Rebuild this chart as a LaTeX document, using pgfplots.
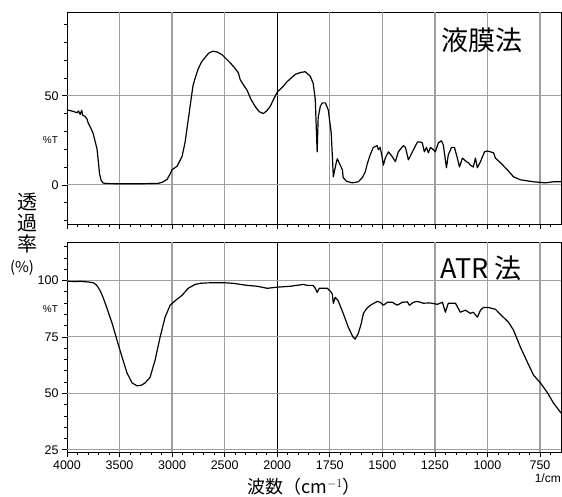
\documentclass[border=0pt]{standalone}
\usepackage{pgfplots}
\pgfplotsset{compat=1.18}
\usepackage{fontspec}
\setmainfont{Liberation Sans}
\newfontfamily\jp{Noto Sans CJK JP}

% IR spectra: wavenumber axis is compressed 2x above 2000 cm^-1
\pgfplotsset{
  irstyle/.style={
    scale only axis,
    width=494pt,
    xmin=4000, xmax=650,
    x coord trafo/.code={\pgfmathparse{ifthenelse(##1>=2000,(4000-##1)/500,4+(2000-##1)/250)}},
    axis line style={black, line width=0.8pt},
    tick align=outside,
    xtick pos=bottom, ytick pos=left,
    major tick length=5pt, minor tick length=3pt,
    tick style={black, line width=0.6pt},
    xtick={4000,3500,3000,2500,1750,1500,1250,1000,750},
    extra x ticks={2000},
    extra x tick style={xmajorgrids=true, major grid style={draw=black, line width=1pt}},
    minor xtick={3900,3800,3700,3600,3400,3300,3200,3100,2900,2800,2700,2600,2400,2300,2200,2100,
      1950,1900,1850,1800,1700,1650,1600,1550,1450,1400,1350,1300,1200,1150,1100,1050,950,900,850,800,700},
    tick label style={font=\fontsize{12.5}{13}\selectfont},
    clip mode=individual,
  },
  % vertical grid at 3500 ... 750 (rel. positions on the split scale)
  vgrid/.code={%
    \pgfplotsinvokeforeach{0.1064,0.2128,0.3191,0.5319,0.6383,0.7447,0.8511,0.9574}{%
      \draw[draw=black!38, line width=1.3pt] (rel axis cs:##1,0) -- (rel axis cs:##1,1);}},
}

\pgfplotstableread{
wn T
4000 42.1
3960 41.5
3930 41
3905 40.4
3890 41.5
3875 39.5
3860 41.8
3850 39
3830 38.5
3810 37
3800 35
3775 32
3752 29
3735 25
3714 20
3700 12
3690 6
3675 2.5
3657 1
3620 0.7
3500 0.6
3300 0.6
3133 0.8
3090 1.5
3048 3
3020 6
3000 8.5
2975 9.5
2952 10.5
2930 13
2905 16
2876 24
2855 33
2838 40
2820 48
2800 56
2775 61
2752 65
2720 69
2686 71.5
2650 74
2610 75
2570 74.5
2524 73
2490 71
2448 68.5
2410 66
2371 63
2352 59
2320 56
2286 53
2250 48
2210 44
2170 41
2133 40
2100 41.5
2067 44
2030 48.5
2000 52
1970 55.5
1952 58
1914 62
1890 63
1867 63.5
1843 61
1829 57
1819 48
1810 18.5
1805 38
1795 44
1786 46
1771 46
1757 42
1743 29
1733 4.5
1720 12
1714 14.6
1700 11
1690 8.4
1686 4
1670 2
1643 1.1
1614 1.7
1595 4
1581 7.3
1571 12
1557 17
1543 21
1524 22
1519 19.7
1510 21
1500 15
1495 11
1486 15
1471 18.5
1452 15.7
1438 13
1424 18.5
1400 22
1390 21
1376 14
1357 18.5
1333 24
1319 24
1310 23.6
1300 18.5
1290 21
1281 18
1271 21
1257 19.7
1248 18.5
1233 23.6
1219 24.7
1210 22.5
1195 9.6
1186 16.9
1171 21
1157 21
1143 15
1133 10
1119 15
1100 13
1090 12.4
1081 11
1067 10
1057 15
1048 9.6
1033 13
1014 18.5
1000 19
986 18.5
971 18
962 15
938 12.4
905 8.4
876 4.5
843 2.8
781 1.7
724 1.1
686 1.7
650 1.7
}\liquidfilm

\pgfplotstableread{
wn T
4000 99.6
3900 99.5
3876 99.6
3800 99.3
3752 99
3720 98
3705 97
3680 95
3657 92.5
3619 87.6
3571 81
3524 73.5
3476 66
3429 59
3381 54.6
3333 53.3
3290 53.6
3257 54.6
3210 57
3162 64.7
3114 74.9
3067 83.7
3019 89
2971 91
2905 93.4
2848 96.5
2781 98.2
2733 98.7
2667 98.9
2514 99
2419 98.7
2286 97.8
2190 97.4
2095 96.5
2000 97
1938 97.4
1876 98.2
1857 97.8
1829 97.8
1819 96.5
1810 94.7
1800 96.5
1780 96.5
1762 96.5
1745 95
1738 94
1733 89.8
1724 92.5
1710 91
1686 85.4
1662 79.3
1640 75
1629 74
1614 76.6
1600 81
1590 85.4
1575 87.5
1557 89
1524 90.7
1510 90.3
1495 89
1476 90.3
1452 90.3
1429 89
1405 90.3
1381 90.5
1371 89
1352 90.3
1333 90.7
1305 89.9
1271 90
1238 89.4
1214 90.3
1200 85.9
1186 89.9
1152 89.9
1129 85.9
1105 86.8
1081 85.4
1067 85.9
1048 83.7
1033 86.8
1019 88
995 88
962 87.2
929 84.1
900 81.5
876 78
843 70.4
810 63.8
781 58.1
748 54.6
714 50.2
686 45.7
650 41.3
}\atr

\begin{document}
\begin{tikzpicture}[x=1pt,y=1pt]
\path[use as bounding box] (0,0) rectangle (562,496);

% liquid film method
\begin{axis}[
  irstyle,
  at={(67pt,272pt)}, anchor=south west,
  height=212pt,
  ymin=-22, ymax=97,
  ytick={0,50}, yticklabels={0,50},
  minor ytick={-20,-10,10,20,30,40,60,70,80,90},
  xticklabels={}, extra x tick labels={},
]
\pgfplotsset{vgrid}
\pgfplotsinvokeforeach{0.1849,0.6050}{%
  \draw[draw=black!38, line width=1.3pt] (rel axis cs:0,#1) -- (rel axis cs:1,#1);}
\addplot[black, line width=1.2pt, line join=round] table[x=wn, y=T] {\liquidfilm};
\node[anchor=west, inner sep=0pt, font=\jp\fontsize{27}{27}\selectfont] at (rel axis cs:0.758,0.868) {液膜法};
\node[anchor=east, inner sep=0pt, font=\fontsize{10}{10}\selectfont] at (rel axis cs:-0.018,0.395) {\%T};
\end{axis}

% ATR method
\begin{axis}[
  irstyle,
  at={(67pt,44pt)}, anchor=south west,
  height=210pt,
  ymin=24, ymax=117,
  ytick={25,50,75,100}, yticklabels={25,50,75,100},
  minor ytick={30,35,40,45,55,60,65,70,80,85,90,95,105,110,115},
  xticklabels={4000,3500,3000,2500,1750,1500,1250,1000,750},
  extra x tick labels={2000},
]
\pgfplotsset{vgrid}
\pgfplotsinvokeforeach{0.01075,0.2796,0.5484,0.8172}{%
  \draw[draw=black!38, line width=1.3pt] (rel axis cs:0,#1) -- (rel axis cs:1,#1);}
\addplot[black, line width=1.2pt, line join=round] table[x=wn, y=T] {\atr};
\node[anchor=west, inner sep=0pt, font=\jp\fontsize{27}{27}\selectfont] at (rel axis cs:0.756,0.876) {ATR 法};
\node[anchor=east, inner sep=0pt, font=\fontsize{10}{10}\selectfont] at (rel axis cs:-0.018,0.683) {\%T};
\end{axis}

% axis titles
\node[font=\jp\fontsize{20}{20}\selectfont, inner sep=0pt] at (27,294) {透};
\node[font=\jp\fontsize{20}{20}\selectfont, inner sep=0pt] at (27,273) {過};
\node[font=\jp\fontsize{20}{20}\selectfont, inner sep=0pt] at (27,252) {率};
\node[font=\jp\fontsize{15}{15}\selectfont, inner sep=0pt] at (22,228) {(\%)};
\node[font=\jp\fontsize{18}{18}\selectfont, inner sep=0pt] at (304,9) {波数（cm$^{-1}$）};
\node[font=\fontsize{12}{12}\selectfont, anchor=east, inner sep=0pt] at (561,18) {1/cm};
\end{tikzpicture}
\end{document}
